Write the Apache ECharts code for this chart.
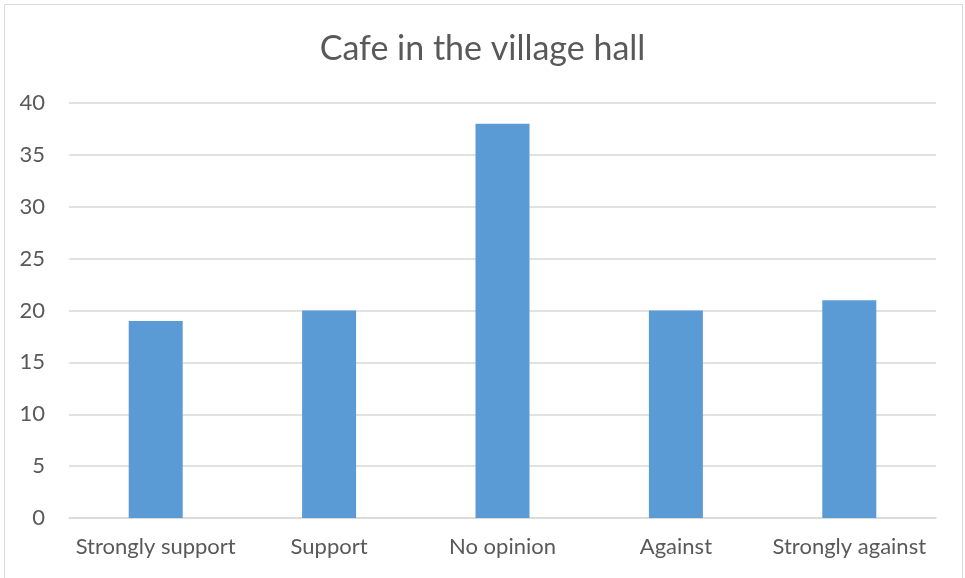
<!DOCTYPE html>
<html><head><meta charset="utf-8">
<script src="https://cdn.jsdelivr.net/npm/echarts@6/dist/echarts.min.js"></script>
<style>html,body{margin:0;padding:0;background:#fff}#c{width:965px;height:578px}</style>
</head><body><div id="c"></div>
<script>
const categories = ['Strongly support', 'Support', 'No opinion', 'Against', 'Strongly against'];
const values = [19, 20, 38, 20, 21];
const chart = echarts.init(document.getElementById('c'));
const font = 'Lato, "Open Sans", sans-serif';
chart.setOption({
  animation: false,
  graphic: [{type: 'rect', shape: {x: 4.5, y: 4.5, width: 958, height: 600}, style: {fill: 'none', stroke: '#d9d9d9', lineWidth: 1}}],
  title: {text: 'Cafe in the village hall', left: 'center', top: 27,
    textStyle: {fontFamily: font, fontSize: 34, fontWeight: 'normal', color: '#595959'}},
  grid: {left: 69, right: 29, top: 103, bottom: 60},
  xAxis: {type: 'category', data: categories,
    axisLine: {lineStyle: {color: '#d9d9d9', width: 1.5}}, axisTick: {show: false},
    axisLabel: {interval: 0, hideOverlap: false, fontFamily: font, fontSize: 22, color: '#595959', margin: 18}},
  yAxis: {type: 'value', min: 0, max: 40, interval: 5,
    axisLine: {show: false}, axisTick: {show: false},
    splitLine: {lineStyle: {color: '#d9d9d9', width: 1.5}},
    axisLabel: {fontFamily: font, fontSize: 22, color: '#595959', margin: 24}},
  series: [{type: 'bar', data: values, barWidth: 54, itemStyle: {color: '#5b9bd5'}}]
});
</script></body></html>
